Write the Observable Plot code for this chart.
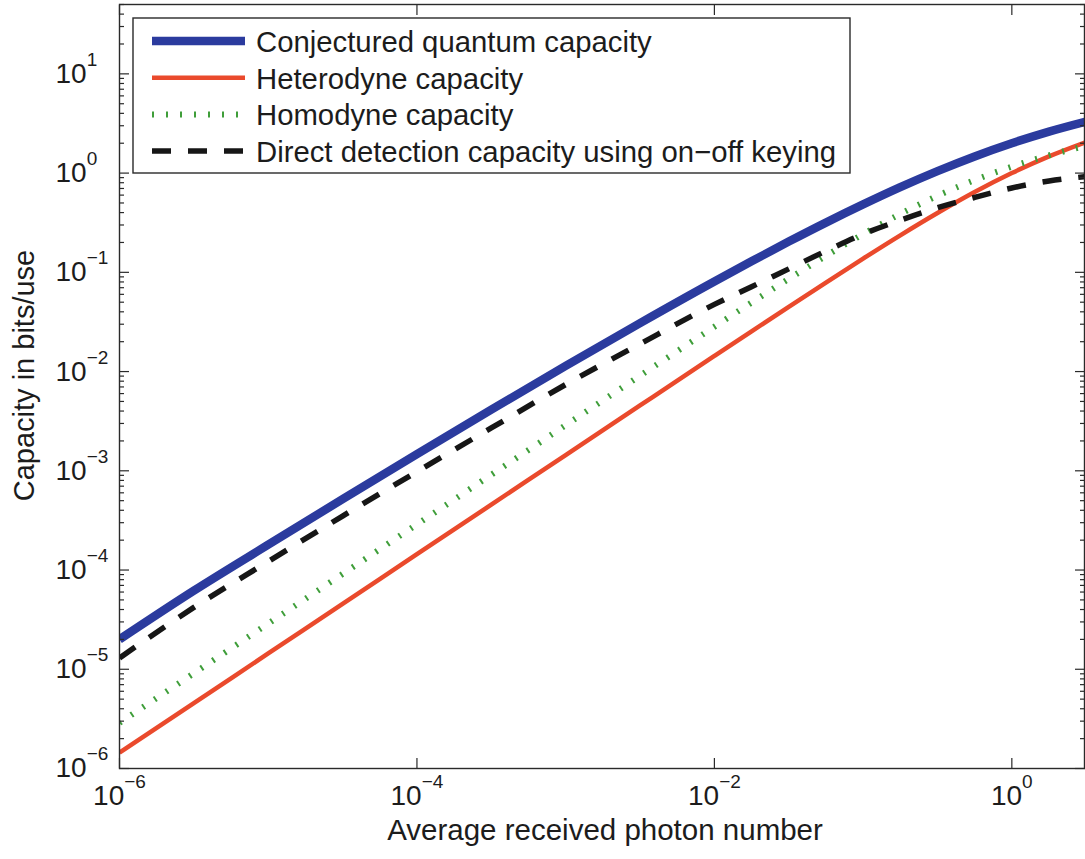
<!DOCTYPE html>
<html>
<head>
<meta charset="utf-8">
<script src="https://cdn.jsdelivr.net/npm/d3@7"></script>
<script src="https://cdn.jsdelivr.net/npm/@observablehq/plot@0.6"></script>
<style>
  html, body { margin: 0; padding: 0; background: #fff; }
  #chart svg { display: block; font-family: "Liberation Sans", Arial, Helvetica, sans-serif; }
</style>
</head>
<body>
<div id="chart"></div>
<script>
// ---- data ----
const photonNumber = [1e-6, 3.162e-6, 1e-5, 3.162e-5, 1e-4, 3.162e-4, 1e-3, 3.162e-3, 1e-2, 1.778e-2, 3.162e-2, 5.623e-2, 0.1, 0.1778, 0.3162, 0.5623, 1, 1.778, 3.162];
const quantumCapacity = [2.0e-5, 6.2e-5, 1.8e-4, 5.18e-4, 1.47e-3, 4.13e-3, 1.141e-2, 3.08e-2, 0.0809, 0.1292, 0.204, 0.317, 0.483, 0.721, 1.047, 1.473, 2.0, 2.62, 3.31];
const heterodyneCapacity = [1.443e-6, 4.56e-6, 1.443e-5, 4.56e-5, 1.443e-4, 4.56e-4, 1.442e-3, 4.555e-3, 0.01436, 0.02543, 0.0449, 0.0789, 0.1375, 0.236, 0.396, 0.644, 1.0, 1.474, 2.057];
const homodyneCapacity = [2.885e-6, 9.12e-6, 2.885e-5, 9.12e-5, 2.885e-4, 9.12e-4, 2.88e-3, 9.07e-3, 0.0283, 0.0496, 0.0859, 0.1464, 0.2427, 0.3875, 0.590, 0.850, 1.161, 1.510, 1.885];
const directDetectionCapacity = [1.3e-5, 4.2e-5, 1.22e-4, 3.5e-4, 9.8e-4, 2.7e-3, 7.4e-3, 0.019, 0.0475, 0.0716, 0.1084, 0.164, 0.2427, 0.335, 0.447, 0.569, 0.708, 0.832, 0.923];

const seriesNames = ["Conjectured quantum capacity", "Heterodyne capacity", "Homodyne capacity", "Direct detection capacity using on\u2212off keying"];
const seriesValues = [quantumCapacity, heterodyneCapacity, homodyneCapacity, directDetectionCapacity];

const xTickValues = [1e-6, 1e-4, 1e-2, 1];
const xTickExponents = ["\u22126", "\u22124", "\u22122", "0"];
const yTickValues = [1e-6, 1e-5, 1e-4, 1e-3, 1e-2, 1e-1, 1, 10];
const yTickExponents = ["\u22126", "\u22125", "\u22124", "\u22123", "\u22122", "\u22121", "0", "1"];

const xLabel = "Average received photon number";
const yLabel = "Capacity in bits/use";

// ---- styles ----
const styles = [
  { stroke: "#2b3b9e", strokeWidth: 8.5, dash: null, cap: "butt" },
  { stroke: "#ea4a2c", strokeWidth: 4.5, dash: null, cap: "butt" },
  { stroke: "#3f9e3a", strokeWidth: 6, dash: "2,12", cap: "butt" },
  { stroke: "#161616", strokeWidth: 5.5, dash: "19,17", cap: "butt" }
];

const xDomain = [1e-6, 3.08];
const yDomain = [1e-6, 50];

const rows = [];
seriesNames.forEach((name, s) => {
  photonNumber.forEach((x, i) => rows.push({ series: name, x, y: seriesValues[s][i] }));
});

// minor y ticks (2..9 in each decade)
const yMinor = [];
for (const d of yTickValues) for (let m = 2; m <= 9; m++) { const v = d * m; if (v <= yDomain[1] * 1.0001) yMinor.push(v); }

const tickColor = "#2a2a2a";
const textColor = "#1c1c1c";

const lineMarks = seriesNames.map((name, s) => Plot.line(rows.filter(r => r.series === name), {
  x: "x", y: "y", curve: "monotone-x", clip: true,
  stroke: styles[s].stroke, strokeWidth: styles[s].strokeWidth,
  strokeDasharray: styles[s].dash, strokeLinecap: styles[s].cap, strokeLinejoin: "round"
}));

const plot = Plot.plot({
  width: 1085, height: 859,
  marginLeft: 119, marginRight: 1, marginTop: 4, marginBottom: 91,
  x: { type: "log", domain: xDomain },
  y: { type: "log", domain: yDomain },
  style: { fontFamily: "'Liberation Sans', Arial, Helvetica, sans-serif", background: "#fff", color: textColor },
  marks: [
    ...lineMarks,
    Plot.frame({ stroke: tickColor, strokeWidth: 1.4 }),
    Plot.axisY({ ticks: yMinor, anchor: "left", tickSize: -5, tickFormat: () => "", label: null, stroke: tickColor, strokeWidth: 1.2 }),
    Plot.axisY({ ticks: yMinor, anchor: "right", tickSize: -5, tickFormat: () => "", label: null, stroke: tickColor, strokeWidth: 1.2 }),
    Plot.axisY({ ticks: yTickValues, anchor: "left", tickSize: -10, tickFormat: () => "", label: null, stroke: tickColor, strokeWidth: 1.2 }),
    Plot.axisY({ ticks: yTickValues, anchor: "right", tickSize: -10, tickFormat: () => "", label: null, stroke: tickColor, strokeWidth: 1.2 }),
    Plot.axisX({ ticks: xTickValues, anchor: "bottom", tickSize: -10, tickFormat: () => "", label: null, stroke: tickColor, strokeWidth: 1.2 }),
    Plot.axisX({ ticks: xTickValues, anchor: "top", tickSize: -10, tickFormat: () => "", label: null, stroke: tickColor, strokeWidth: 1.2 }),
    Plot.text(yTickValues, {
      y: d => d, frameAnchor: "left", dx: -64, textAnchor: "start",
      text: (d, i) => "10^" + yTickExponents[i], fontSize: 28, fill: textColor
    }),
    Plot.text(xTickValues, {
      x: d => d, frameAnchor: "bottom", dy: 36, textAnchor: "middle",
      text: (d, i) => "10^" + xTickExponents[i], fontSize: 28, fill: textColor
    }),
    Plot.text([xLabel], { text: d => d, frameAnchor: "bottom", textAnchor: "middle", dx: 3, dy: 71, fontSize: 29.5, fill: textColor }),
    Plot.text([yLabel], { text: d => d, frameAnchor: "left", textAnchor: "middle", dx: -95, dy: -11, rotate: -90, fontSize: 29, fill: textColor })
  ]
});

// superscript exponents
d3.select(plot).selectAll("text").each(function () {
  const t = d3.select(this);
  const s = t.text();
  if (!s.includes("^")) return;
  const [base, exp] = s.split("^");
  t.text(null);
  t.append("tspan").text(base);
  t.append("tspan").attr("dy", -17).attr("font-size", 19).text(exp);
});

// legend (inside the axes, top-left)
const svg = d3.select(plot);
const lg = svg.append("g").attr("class", "legend");
lg.append("rect").attr("x", 133).attr("y", 18).attr("width", 717).attr("height", 155)
  .attr("fill", "#fff").attr("stroke", tickColor).attr("stroke-width", 1.4);
seriesNames.forEach((name, s) => {
  const cy = 41 + s * 36.7;
  lg.append("line").attr("x1", 152).attr("x2", 245).attr("y1", cy).attr("y2", cy)
    .attr("stroke", styles[s].stroke).attr("stroke-width", styles[s].strokeWidth)
    .attr("stroke-dasharray", styles[s].dash).attr("stroke-linecap", styles[s].cap);
  lg.append("text").attr("x", 256).attr("y", cy + 11).attr("font-size", 29.3)
    .attr("text-anchor", "start").attr("fill", textColor).text(name);
});

document.getElementById("chart").appendChild(plot);
</script>
</body>
</html>
